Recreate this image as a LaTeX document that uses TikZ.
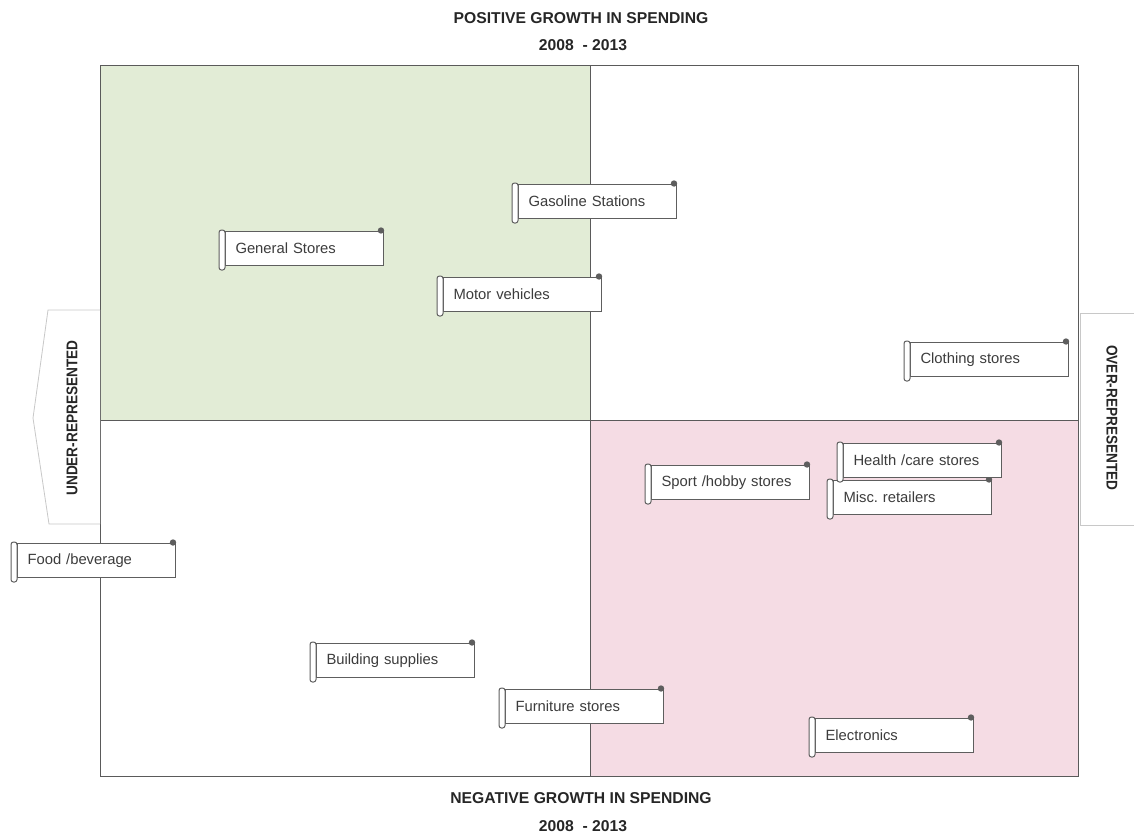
\documentclass[tikz,border=0pt]{standalone}
\usepackage{fontspec}
\setmainfont{Liberation Sans}
\usetikzlibrary{calc}
\frenchspacing
\definecolor{frame}{HTML}{5A5A5A}
\definecolor{greenq}{HTML}{E2ECD6}
\definecolor{pinkq}{HTML}{F5DCE4}
\definecolor{scrollline}{HTML}{5E5E5E}
\definecolor{txt}{HTML}{3C3C3C}
\definecolor{arrowline}{HTML}{C8C8C8}
\newcommand{\scrl}[4]{%
  \node[scrollbody] (#1) at (#2+6,#3+2) {#4};
  \draw[scrollline, line width=1pt, fill=white, rounded corners=2.5pt] (#2,#3+1) rectangle (#2+6,#3+41);
  \fill[scrollline] (#2+162,#3+1.5) circle (3.2);
}
\begin{document}
\begin{tikzpicture}[x=1pt,y=-1pt,
  scrollbody/.style={draw=scrollline, line width=1pt, fill=white, anchor=north west,
    minimum width=158pt, minimum height=34pt, text width=138pt, inner xsep=10pt, align=left,
    font=\fontsize{14.8}{16}\selectfont, text=txt},
  title/.style={font=\fontsize{15.7}{17}\selectfont\bfseries, text=black!85},
  side/.style={font=\fontsize{15.5}{17}\selectfont\bfseries, text=black!85}]
\useasboundingbox (0,0) rectangle (1134,835);
% quadrants
\fill[greenq] (100,65) rectangle (590,420);
\fill[pinkq] (590,420) rectangle (1078,776);
\draw[frame, line width=1pt] (100,65) rectangle (1078,776);
\draw[frame, line width=1pt] (590,65) -- (590,776);
\draw[frame, line width=1pt] (100,420) -- (1078,420);
% titles
\node[title] (t1) at (581,18) {POSITIVE GROWTH IN SPENDING};
\node[title] (t2) at (583,45) {2008\ \ - 2013};
\node[title] (b1) at (581,798) {NEGATIVE GROWTH IN SPENDING};
\node[title] (b2) at (583,826) {2008\ \ - 2013};
% side arrows
\draw[arrowline, fill=white, line width=0.8pt] (100,310) -- (48,310) -- (33,418) -- (49,524) -- (100,524);
\node[side, rotate=90] (under) at (72,418) {\scalebox{0.88}[1]{UNDER-REPRESENTED}};
\draw[arrowline, fill=white, line width=0.8pt] (1150,313) -- (1080,313) -- (1080,525) -- (1150,525);
\node[side, rotate=-90] (over) at (1112,418) {\scalebox{0.88}[1]{OVER-REPRESENTED}};
% scrolls
\scrl{gas}{512}{182}{Gasoline Stations}
\scrl{gen}{219}{229}{General Stores}
\scrl{motor}{437}{275}{Motor vehicles}
\scrl{cloth}{904}{340}{Clothing stores}
\scrl{misc}{827}{478}{Misc. retailers}
\scrl{health}{837}{441}{Health /care stores}
\scrl{sport}{645}{463}{Sport /hobby stores}
\scrl{food}{11}{541}{Food /beverage}
\scrl{build}{310}{641}{Building supplies}
\scrl{furn}{499}{687}{Furniture stores}
\scrl{elec}{809}{716}{Electronics}
\end{tikzpicture}
\end{document}
